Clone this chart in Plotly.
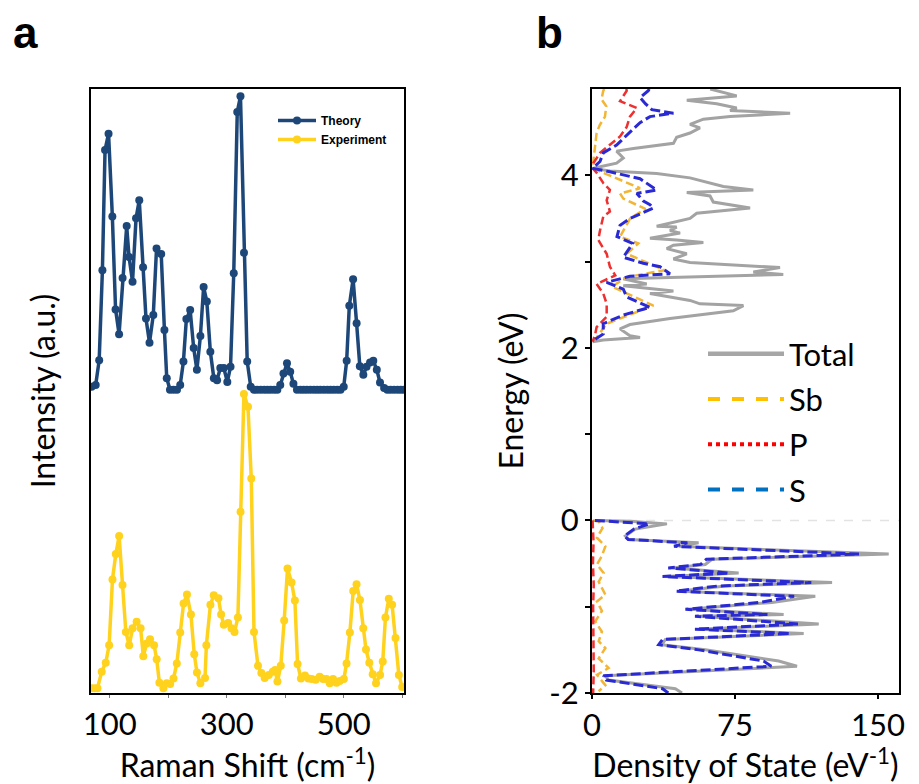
import plotly.graph_objects as go

# ---------------- Panel a: Raman spectra ----------------
theory_shift = [69, 76, 82, 87.5, 92, 98, 104.5, 110, 116, 122, 129, 133, 139, 145, 150.5, 157, 162, 168, 174.5, 180,
                188, 193.5, 197.5, 203, 209, 215, 220.5, 226, 231, 237.5, 243.5, 249, 255, 260.5, 266, 272, 278, 283.5, 289, 295,
                301, 306.5, 312, 318, 323.5, 329.5, 335, 341, 346.5, 352, 358, 364, 369.5, 375, 381, 386.5, 391.5, 397, 403, 408.5,
                414, 420, 426, 431.5, 437, 443, 449, 454.5, 460, 466, 472, 477.5, 483, 489, 494.5, 500, 505, 509.5, 516, 522,
                527.5, 533.5, 539, 545, 550.5, 556.5, 562, 569, 574.5, 580, 586, 592, 597.5, 603]
theory_intensity = [0.5, 0.8, 4.9, 19.8, 39.7, 42.4, 28.7, 13.3, 9.2, 18.5, 27.1, 22.0, 17.9, 28.4, 31.4, 20.3, 11.8, 7.8, 12.4, 23.4,
                    22.5, 9.9, 1.9, 0, 0, 0, 0.8, 4.7, 11.7, 13.2, 6.9, 3.3, 8.9, 17.0, 14.6, 6.3, 1.9, 1.6, 3.6, 3.6,
                    1.3, 3.8, 19.3, 46.0, 48.6, 22.7, 4.7, 0.5, 0, 0, 0, 0, 0, 0, 0, 0, 0.8, 2.7, 4.4, 3.0,
                    1.0, 0, 0, 0, 0, 0, 0, 0, 0, 0, 0, 0, 0, 0, 0, 0.5, 4.8, 13.9, 18.3, 11.0,
                    3.9, 2.5, 3.8, 4.5, 4.8, 3.3, 1.2, 0.3, 0, 0, 0, 0, 0, 0]

exp_shift = [69, 74, 79, 86.3, 93.2, 99.0, 104.7, 110.4, 116.1, 121.9, 127.6, 133.3, 139.1, 146.0, 152.8, 157.4, 163.2, 168.9, 175.8, 180.3,
             184.9, 191.8, 197.5, 203.3, 209.0, 214.7, 220.5, 226.2, 232.0, 238.8, 244.5, 249.1, 254.9, 262.9, 265.2, 272.1, 277.8, 285.8, 290.4, 295.0,
             302.4, 308.2, 313.3, 319.1, 323.6, 329.4, 336.3, 342.0, 346.6, 353.4, 359.2, 364.9, 371.8, 378.7, 382.7, 386.7, 392.4, 398.2, 403.9, 410.8,
             416.5, 421.1, 426.8, 433.7, 439.4, 445.2, 452.0, 458.9, 464.7, 470.4, 476.1, 481.8, 487.6, 493.3, 500.2, 504.8, 510.5, 516.2, 521.9, 527.7,
             533.4, 538.0, 543.7, 549.5, 555.2, 562.1, 566.7, 571.3, 577.0, 582.7, 588.5, 594.2, 599.9]
exp_intensity = [0.8, 0.8, 0.8, 3.5, 5.0, 7.9, 18.8, 23.0, 26.0, 17.9, 10.1, 7.9, 10.7, 11.8, 10.7, 6.1, 8.2, 8.9, 7.9, 5.6,
                 1.7, 0.8, 1.6, 1.5, 2.4, 4.9, 10.0, 14.8, 16.3, 13.0, 6.4, 3.4, 1.6, 2.5, 7.9, 14.6, 16.2, 15.7, 13.0, 11.3,
                 11.6, 10.7, 10.1, 12.5, 30.0, 49.5, 47.4, 35.5, 10.1, 4.5, 3.3, 2.5, 3.0, 3.5, 3.8, 1.9, 4.5, 12.0, 20.6, 18.3,
                 15.3, 4.8, 2.4, 2.9, 2.4, 2.3, 2.2, 2.7, 2.3, 2.3, 1.6, 2.3, 1.7, 2.0, 2.3, 4.9, 10.0, 16.9, 18.0, 15.4,
                 10.7, 7.2, 5.0, 3.1, 1.6, 3.0, 5.2, 12.5, 15.6, 14.6, 9.1, 3.0, 1.0]

raman_major_ticks = [100, 300, 500]
raman_minor_ticks = [200, 400, 600]

# ---------------- Panel b: density of states ----------------
# conduction band (energy in eV, DOS in 1/eV)
cb_energy_total = [5.0, 4.98, 4.92, 4.87, 4.83, 4.78, 4.75, 4.72, 4.68, 4.65, 4.59, 4.55, 4.49, 4.44, 4.37, 4.31, 4.28, 4.20, 4.14, 4.09,
                   4.08, 4.05, 4.02, 3.97, 3.92, 3.87, 3.83, 3.80, 3.76, 3.69, 3.62, 3.56, 3.50, 3.41, 3.40, 3.36, 3.33, 3.27, 3.25, 3.22,
                   3.19, 3.15, 3.09, 3.03, 2.99, 2.96, 2.93, 2.88, 2.85, 2.80, 2.74, 2.72, 2.66, 2.63, 2.55, 2.51, 2.49, 2.43, 2.34, 2.27,
                   2.22, 2.14, 2.12, 2.09, 2.07]
cb_dos_total = [62, 65.4, 75.9, 49.7, 65.4, 75.9, 72.4, 103.9, 72.4, 58.4, 51.4, 56.6, 51.4, 44.4, 42.7, 21.7, 12.9, 16.4, 12.9, 2.4,
                0.5, 9.4, 33.9, 51.4, 60.2, 68.9, 84.6, 49.7, 61.9, 63.6, 82.9, 54.9, 51.4, 33.9, 44.4, 40.9, 46.2, 30.4, 44.4, 58.4,
                42.7, 39.2, 49.7, 42.7, 51.4, 77.6, 98.6, 84.6, 100.3, 16.4, 28.7, 16.4, 42.7, 30.4, 51.4, 56.6, 79.4, 74.1, 40.9, 19.9,
                14.7, 19.9, 25.2, 5.9, 0.3]

cb_energy_s = [5.0, 4.98, 4.90, 4.83, 4.76, 4.72, 4.68, 4.61, 4.53, 4.43, 4.35, 4.26, 4.16, 4.08, 4.04, 3.96, 3.91, 3.83, 3.79, 3.70,
               3.66, 3.62, 3.50, 3.42, 3.29, 3.21, 3.05, 2.98, 2.94, 2.86, 2.83, 2.76, 2.68, 2.59, 2.47, 2.38, 2.28, 2.16, 2.08]
cb_dos_s = [30, 29.5, 25.2, 28, 31.4, 42.7, 30.4, 25.2, 21.3, 16.4, 12.9, 5.9, 4.2, 0.3, 9.4, 25.2, 28.7, 33.9, 23.5, 27,
            30.4, 32.2, 19.9, 14.7, 13.1, 21.3, 16.4, 26.9, 35.7, 40.9, 19.9, 7.7, 16.4, 18.2, 30.4, 16.4, 5.9, 5.9, 0.3]

cb_energy_sb = [5.0, 4.98, 4.88, 4.80, 4.68, 4.58, 4.49, 4.30, 4.19, 4.08, 3.98, 3.85, 3.79, 3.73, 3.61, 3.50, 3.29, 3.21, 3.09, 2.94,
                2.90, 2.82, 2.71, 2.49, 2.28, 2.09]
cb_dos_sb = [6.5, 5.9, 5.0, 7.5, 6.8, 4.0, 2.4, 1.5, 0.7, 0.3, 11.2, 25.2, 14.7, 16.4, 28, 20, 14.7, 24.3, 18.2, 34.6,
             38.1, 18.2, 10.5, 32.2, 7.7, 1.5]

cb_energy_p = [5.0, 4.98, 4.86, 4.78, 4.68, 4.56, 4.45, 4.35, 4.26, 4.14, 4.08, 4.03, 3.91, 3.83, 3.71, 3.58, 3.52, 3.36, 3.25, 3.09,
               2.94, 2.84, 2.74, 2.63, 2.51, 2.36, 2.24, 2.14, 2.07]
cb_dos_p = [18, 18.2, 14.7, 23.5, 19.9, 18.2, 14.7, 9.4, 4.2, 0.7, 0.3, 2.4, 5.9, 9.4, 7.7, 9.4, 5.9, 4.2, 3.3, 7.7,
            9.4, 12.2, 2.4, 5.9, 7.7, 7.7, 2.4, 1.5, 0.3]

# valence band
vb_energy_total = [0.0, -0.01, -0.04, -0.10, -0.18, -0.22, -0.26, -0.30, -0.39, -0.45, -0.51, -0.55, -0.61, -0.65, -0.72, -0.76, -0.82, -0.88, -0.95, -1.03,
                   -1.09, -1.11, -1.20, -1.26, -1.31, -1.38, -1.44, -1.50, -1.63, -1.69, -1.80, -1.85, -1.95, -2.0]
vb_dos_total = [1.7, 20, 39.3, 22.7, 17.5, 19.2, 55.9, 45.5, 155.6, 62.9, 59.4, 42.0, 76.9, 38.5, 125.9, 69.9, 45.5, 117.1, 94.4, 50.7,
                100.5, 55.9, 118.9, 55.9, 111.0, 38.5, 36.7, 59.4, 97.9, 107.5, 7.0, 8.7, 43.7, 47.2]

vb_energy_s = [0.0, -0.02, -0.04, -0.10, -0.18, -0.22, -0.26, -0.30, -0.39, -0.45, -0.51, -0.55, -0.61, -0.65, -0.72, -0.76, -0.82, -0.88, -0.95, -1.03,
               -1.09, -1.11, -1.20, -1.26, -1.31, -1.38, -1.44, -1.50, -1.63, -1.69, -1.80, -1.85, -1.95, -2.0]
vb_dos_s = [1.5, 18, 30, 22, 17, 19, 50, 43, 140, 60, 57, 40, 72, 37, 115, 66, 44, 106, 88, 49,
            92, 54, 108, 54, 104, 37, 35, 56, 90, 94, 6, 7.5, 37, 40]

vb_energy_sb = [0.0, -0.01, -0.09, -0.20, -0.30, -0.41, -0.51, -0.61, -0.71, -0.86, -0.94, -1.05, -1.17, -1.29, -1.40, -1.48, -1.60, -1.71, -1.79, -1.91, -1.98]
vb_dos_sb = [0.5, 3.5, 5.5, 2.6, 7.0, 5.2, 2.6, 6.1, 3.5, 7.0, 2.6, 5.2, 1.7, 5.2, 3.5, 7.0, 3.5, 8.7, 2.6, 7.0, 3.5]

vb_energy_p = [0.0, -0.25, -0.5, -0.75, -1.0, -1.25, -1.5, -1.75, -2.0]
vb_dos_p = [0.3, 0.8, 0.5, 0.9, 0.6, 0.8, 0.7, 0.9, 0.6]

dos_ticks = [0, 75, 150]
energy_major_ticks = [-2, 0, 2, 4]
energy_ticktext = ["-2", "0", "2", "4"]
energy_minor_ticks = [-1, 1, 3]

legend_labels = ["Total", "Sb", "P", "S"]

# ---------------- styles ----------------
THEORY_OFFSET = 50.2
C_THEORY = "#1D4778"
C_EXP = "#FFD21E"
FONT = "Lato"
AX_FONT = dict(family=FONT, size=32, color="black")
TICK_FONT = dict(family=FONT, size=31, color="black")

# the page body has an 8 px margin: lay out in window pixels and shift
OFF = 8
W, H = 919 - OFF, 784 - OFF


def px(x):
    return (x - OFF) / W


def py(y):
    return 1 - (y - OFF) / H


fig = go.Figure()

fig.add_trace(go.Scatter(
    x=theory_shift, y=[v + THEORY_OFFSET for v in theory_intensity],
    mode="lines+markers", name="Theory",
    line=dict(color=C_THEORY, width=3.5), marker=dict(color=C_THEORY, size=8),
    xaxis="x", yaxis="y", legend="legend"))
fig.add_trace(go.Scatter(
    x=exp_shift, y=exp_intensity,
    mode="lines+markers", name="Experiment",
    line=dict(color=C_EXP, width=3.5), marker=dict(color=C_EXP, size=8),
    xaxis="x", yaxis="y", legend="legend"))


def join(a, b):
    return a + [None] + b


dos_series = [
    ("Total", cb_energy_total, cb_dos_total, vb_energy_total, vb_dos_total, "#A3A3A3", "solid", 3),
    ("Sb", cb_energy_sb, cb_dos_sb, vb_energy_sb, vb_dos_sb, "#F2B535", "8px,4px", 2.5),
    ("P", cb_energy_p, cb_dos_p, vb_energy_p, vb_dos_p, "#EE3030", "8px,4px", 2.5),
    ("S", cb_energy_s, cb_dos_s, vb_energy_s, vb_dos_s, "#2A2AD4", "10px,4px", 3),
]
for name, ce, cd, ve, vd, col, dash, w in dos_series:
    fig.add_trace(go.Scatter(
        x=join(cd, vd), y=join(ce, ve), mode="lines", name=name,
        line=dict(color=col, dash=dash, width=w), connectgaps=False,
        showlegend=False, xaxis="x2", yaxis="y2"))

# legend entries for panel b (styled as in the reference legend)
legend_styles = [("#A6A6A6", "solid", 4.5), ("#FFC000", "dash", 4), ("#FF0000", "dot", 4), ("#0070C0", "dash", 4)]
for lab, (col, dash, w) in zip(legend_labels, legend_styles):
    fig.add_trace(go.Scatter(
        x=[None], y=[None], mode="lines", name=lab,
        line=dict(color=col, dash=dash, width=w),
        xaxis="x2", yaxis="y2", legend="legend2", legendgroup=lab))

fig.add_shape(type="line", xref="x2 domain", yref="y2", x0=0, x1=1, y0=0, y1=0,
              line=dict(color="#E3E3E3", width=1.5, dash="dash"), layer="below")

ydom = [py(693), py(89)]

fig.update_layout(
    width=W, height=H,
    margin=dict(l=0, r=0, t=0, b=0),
    paper_bgcolor="white", plot_bgcolor="white",
    font=dict(family=FONT, color="black"),
    xaxis=dict(domain=[px(91), px(404)], range=[68, 603], anchor="y", tickvals=raman_major_ticks,
               ticks="outside", ticklen=3, tickwidth=1, tickcolor="#777777", tickfont=TICK_FONT,
               minor=dict(tickvals=raman_minor_ticks, ticks="outside", ticklen=3, tickwidth=1, tickcolor="#777777"),
               showline=True, linecolor="black", linewidth=2, mirror=True, showgrid=False, zeroline=False,
               title=dict(text="Raman Shift (cm<sup>-1</sup>)", font=AX_FONT, standoff=12), automargin=False),
    yaxis=dict(domain=ydom, range=[0, 100], anchor="x", showticklabels=False, ticks="",
               showline=True, linecolor="black", linewidth=2, mirror=True, showgrid=False, zeroline=False,
               title=dict(text="Intensity (a.u.)", font=AX_FONT, standoff=24), automargin=False),
    xaxis2=dict(domain=[px(592), px(899)], range=[0, 161], anchor="y2", tickvals=dos_ticks,
                ticks="outside", ticklen=4, tickwidth=1.5, tickcolor="black", tickfont=TICK_FONT,
                showline=True, linecolor="black", linewidth=2, mirror=True, showgrid=False, zeroline=False,
                title=dict(text="Density of State (eV<sup>-1</sup>)", font=AX_FONT, standoff=12), automargin=False),
    yaxis2=dict(domain=ydom, range=[-2, 5], anchor="x2", tickvals=energy_major_ticks, ticktext=energy_ticktext,
                ticks="outside", ticklen=5, tickwidth=1.5, tickcolor="black", tickfont=TICK_FONT,
                minor=dict(tickvals=energy_minor_ticks, ticks="outside", ticklen=5, tickwidth=1.5, tickcolor="black"),
                showline=True, linecolor="black", linewidth=2, mirror=True, showgrid=False, zeroline=False,
                title=dict(text="Energy (eV)", font=AX_FONT, standoff=16), automargin=False),
    legend=dict(x=px(273), y=py(106), xanchor="left", yanchor="top", bgcolor="rgba(0,0,0,0)",
                font=dict(family="Liberation Sans", size=12, weight="bold", color="black"),
                tracegroupgap=0, itemwidth=38),
    legend2=dict(x=px(703), y=py(327), xanchor="left", yanchor="top", bgcolor="rgba(0,0,0,0)",
                 font=dict(family=FONT, size=31, color="black"), tracegroupgap=2, itemwidth=76),
    annotations=[
        dict(text="<b>a</b>", x=px(25), y=py(33), xref="paper", yref="paper", showarrow=False,
             xanchor="center", yanchor="middle",
             font=dict(family="Liberation Sans", size=44, color="black")),
        dict(text="<b>b</b>", x=px(549), y=py(33), xref="paper", yref="paper", showarrow=False,
             xanchor="center", yanchor="middle",
             font=dict(family="Liberation Sans", size=44, color="black")),
    ],
)

fig.write_html("out.html")
